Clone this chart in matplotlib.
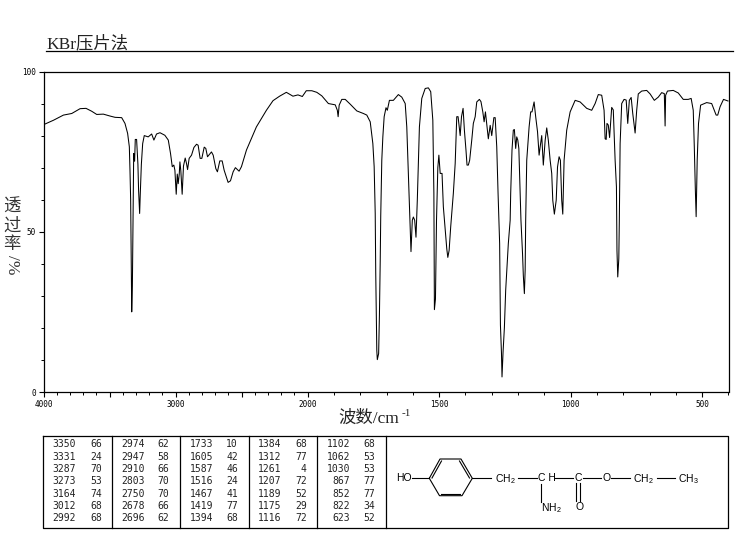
"""IR spectrum (KBr pellet) with peak table and structure panel."""

import numpy as np
import matplotlib
matplotlib.use("Agg")
import matplotlib.pyplot as plt

CJK = ["Liberation Serif", "Noto Sans CJK SC"]
MONO = "DejaVu Sans Mono"
plt.rcParams["mathtext.default"] = "regular"

WAVENUMBERS = [
    4000, 3924, 3849, 3786, 3723, 3678, 3635, 3597, 3547, 3496, 3458, 3408, 3383, 3363, 3350, 3345,
    3340, 3332, 3327, 3322, 3317, 3310, 3305, 3295, 3285, 3280, 3272, 3267, 3259, 3249, 3237, 3207,
    3181, 3164, 3144, 3118, 3081, 3055, 3038, 3025, 3013, 3005, 2995, 2987, 2980, 2972, 2967, 2960,
    2950, 2940, 2927, 2917, 2909, 2897, 2879, 2861, 2841, 2829, 2814, 2801, 2783, 2771, 2758, 2728,
    2715, 2695, 2683, 2665, 2647, 2632, 2602, 2584, 2564, 2547, 2519, 2501, 2463, 2388, 2312, 2262,
    2212, 2161, 2111, 2073, 2040, 2010, 1984, 1965, 1946, 1921, 1895, 1887, 1884, 1880, 1870, 1857,
    1838, 1813, 1788, 1775, 1762, 1752, 1747, 1743, 1741, 1737, 1735, 1730, 1727, 1724, 1722, 1718,
    1714, 1709, 1702, 1697, 1689, 1674, 1655, 1642, 1629, 1623, 1617, 1610, 1607, 1602, 1598, 1593,
    1588, 1583, 1575, 1566, 1553, 1541, 1532, 1524, 1520, 1518, 1514, 1510, 1505, 1501, 1496, 1489,
    1484, 1476, 1471, 1467, 1462, 1456, 1446, 1439, 1433, 1428, 1420, 1415, 1409, 1404, 1398, 1394,
    1389, 1384, 1376, 1370, 1363, 1357, 1347, 1341, 1334, 1329, 1324, 1318, 1313, 1306, 1300, 1292,
    1287, 1281, 1276, 1271, 1270, 1267, 1263, 1261, 1257, 1252, 1247, 1237, 1230, 1228, 1223, 1218,
    1214, 1209, 1205, 1201, 1197, 1192, 1189, 1183, 1180, 1176, 1173, 1171, 1167, 1158, 1152, 1147,
    1139, 1133, 1126, 1120, 1116, 1110, 1104, 1097, 1091, 1085, 1078, 1072, 1068, 1062, 1055, 1050,
    1044, 1039, 1034, 1030, 1025, 1015, 1002, 983, 964, 939, 920, 907, 895, 882, 873, 869,
    865, 862, 857, 852, 844, 838, 831, 826, 824, 821, 817, 815, 812, 806, 797, 789,
    783, 777, 770, 764, 755, 749, 743, 730, 711, 698, 682, 667, 654, 644, 641, 639,
    632, 610, 591, 572, 553, 542, 534, 530, 526, 523, 519, 514, 506, 483, 464, 447,
    441, 432, 419, 402,
]
TRANSMITTANCE = [
    83.4, 84.8, 86.4, 86.9, 88.4, 88.5, 87.6, 86.6, 86.7, 86.1, 85.7, 85.6, 83.8, 80.7, 76.5, 69,
    60, 25, 33, 53.6, 74.4, 72, 78.8, 78.8, 71, 63, 55.7, 62, 71, 77.5, 80, 79.6,
    80.5, 78.6, 80.5, 80.9, 80.1, 78.6, 74.4, 70.3, 70.8, 69.2, 61.7, 68, 65, 68, 71.8, 69,
    61.7, 70.5, 73, 71.3, 69.4, 72.9, 73.9, 76.3, 77.3, 77, 72.9, 72.9, 76.4, 76, 73.4, 74.9,
    73.9, 69.7, 68.7, 72.1, 72.1, 69.2, 65.4, 65.9, 68.7, 70, 68.9, 70.3, 75.5, 82.7, 87.9, 90.9,
    92.3, 93.5, 92.3, 92.7, 92.2, 94, 94, 93.5, 92.4, 90, 89.6, 87.9, 85.9, 89.5, 91.3, 91.3,
    89.8, 87.7, 86.9, 86.4, 84.3, 77.5, 70.3, 55.7, 37, 13, 10.1, 12, 24, 40.6, 55, 72.3,
    79.6, 85.9, 88.7, 87.9, 91, 91, 92.8, 92, 90, 82.7, 68.2, 51.6, 43.8, 53.6, 54.6, 53.6,
    48.3, 59.8, 82.7, 91.6, 94.7, 94.9, 93.7, 84.8, 62, 25.7, 29, 53.6, 70, 73.9, 68.2, 68.2,
    57.8, 49.5, 44.7, 42, 44.2, 51.6, 62, 71.3, 85.9, 85.9, 80, 85.9, 88.5, 81.7, 75.5, 70.8,
    70.8, 72.3, 78.6, 83.8, 85.9, 90.5, 91.3, 90.6, 87.4, 84.3, 87.4, 82.7, 79, 83.2, 80, 85.6,
    85.6, 76.5, 62, 49.5, 46.3, 20.9, 12, 4.7, 12.5, 20, 31.8, 46.3, 53.6, 62, 75.5, 81.7,
    81.9, 76, 79.6, 78.6, 76, 62, 53.6, 43.2, 36.4, 30.7, 38, 53.6, 72.3, 82.7, 87.4, 87.4,
    90.5, 85.9, 81.2, 73.9, 76.5, 80, 70.8, 78.5, 82.4, 78.6, 72.3, 68.2, 59.8, 55.5, 59.8, 70.2,
    73.4, 72.3, 59.8, 55.5, 72.3, 81.7, 87.4, 91, 90.5, 88.5, 87.9, 90, 92.8, 92.6, 87.9, 79,
    78.8, 83.8, 83.3, 79.4, 88.8, 88, 72.3, 64, 44.2, 35.9, 41.6, 53.6, 77.5, 90, 91.3, 91.1,
    83.8, 91, 91.9, 86.9, 80.8, 87.9, 93, 93.9, 94.1, 93, 91, 92, 93.4, 93.1, 83, 92.6,
    93.9, 94.1, 93.3, 91.3, 91.3, 91.6, 87.9, 76.5, 63, 54.7, 72.3, 83.8, 89.5, 90.3, 90, 86.4,
    86.4, 89, 91.3, 90.8,
]

X_TICKS = [4000, 3500, 3000, 2500, 2000, 1500, 1000, 500]
X_LABELS = ["4000", "", "3000", "", "2000", "1500", "1000", "500"]
Y_TICKS = [0, 50, 100]

PEAK_WN = [
    3350, 3331, 3287, 3273, 3164, 3012, 2992,
    2974, 2947, 2910, 2803, 2750, 2678, 2696,
    1733, 1605, 1587, 1516, 1467, 1419, 1394,
    1384, 1312, 1261, 1207, 1189, 1175, 1116,
    1102, 1062, 1030, 867, 852, 822, 623,
]
PEAK_T = [
    66, 24, 70, 53, 74, 68, 68,
    62, 58, 66, 70, 70, 66, 62,
    10, 42, 46, 24, 41, 77, 68,
    68, 77, 4, 72, 52, 29, 72,
    68, 53, 53, 77, 77, 34, 52,
]


def wn_to_pos(wn):
    # axis is compressed by about half above 2000 cm-1
    wn = np.asarray(wn, dtype=float)
    return np.where(wn <= 2000, wn, 2000 + (wn - 2000) * 0.502)


def pos_to_wn(pos):
    pos = np.asarray(pos, dtype=float)
    return np.where(pos <= 2000, pos, 2000 + (pos - 2000) / 0.502)


def draw_table(ov):
    ov.plot([43.5, 728.5, 728.5, 43.5, 43.5], [435.5, 435.5, 527.5, 527.5, 435.5], color="k", lw=0.9)
    for x in [112.5, 180.5, 249.5, 317.5, 386.5]:
        ov.plot([x, x], [435.5, 527.5], color="k", lw=0.9)
    num_right = [76, 145, 213, 281.7, 350]
    val_right = [101.7, 169.3, 238, 306.7, 375]
    for i, (wn, t) in enumerate(zip(PEAK_WN, PEAK_T)):
        col, row = i // 7, i % 7
        y = 444.3 + 12.35 * row
        ov.text(num_right[col], y, str(wn), ha="right", va="center", family=MONO, fontsize=7, color="#222222")
        ov.text(val_right[col], y, str(t), ha="right", va="center", family=MONO, fontsize=7, color="#222222")


def draw_structure(ov):
    hexagon = np.array([[429.3, 478.3], [440, 459], [461, 459], [472.3, 478.3],
                        [462, 495.7], [439.5, 495.7], [429.3, 478.3]])
    ov.plot(hexagon[:, 0], hexagon[:, 1], color="k", lw=0.8)
    inner = [((432, 478), (441.5, 461)), ((459.5, 461), (469.5, 478)), ((441.5, 493.5), (460.5, 493.5))]
    bonds = [((412, 478.3), (429.3, 478.3)), ((472.3, 478.3), (491, 478.3)),
             ((518.5, 478.3), (537, 478.3)), ((555, 478.3), (573.5, 478.3)),
             ((583.5, 478.3), (601.5, 478.3)), ((611.5, 478.3), (630, 478.3)),
             ((657, 478.3), (675, 478.3)), ((541, 483.5), (541, 501.5)),
             ((576.3, 483), (576.3, 501)), ((579.7, 483), (579.7, 501))]
    for p, q in inner + bonds:
        ov.plot([p[0], q[0]], [p[1], q[1]], color="k", lw=0.8)
    labels = [("HO", 404, 478), ("CH$_2$", 505, 479), ("C H", 546.5, 478), ("C", 578.7, 478),
              ("O", 607, 478), ("CH$_2$", 643.5, 479), ("CH$_3$", 688.5, 479),
              ("NH$_2$", 551, 508), ("O", 580, 507.5)]
    for s, x, y in labels:
        ov.text(x, y, s, ha="center", va="center", family="Liberation Sans", fontsize=7.5)


def main():
    fig = plt.figure(figsize=(7.37, 5.39), dpi=100)

    ov = fig.add_axes([0, 0, 1, 1])
    ov.set_xlim(0, 737)
    ov.set_ylim(539, 0)
    ov.axis("off")

    ax = fig.add_axes([43.5 / 737, 1 - 392 / 539, 685 / 737, 320.5 / 539])
    ax.patch.set_alpha(0)
    ax.set_xscale("function", functions=(wn_to_pos, pos_to_wn))
    ax.plot(WAVENUMBERS, TRANSMITTANCE, color="k", lw=0.75)
    ax.set_xlim(4000, 400)
    ax.set_ylim(0, 100)

    ax.set_xticks(X_TICKS)
    ax.set_xticklabels(X_LABELS, family=MONO, fontsize=5.5)
    ax.set_xticks(np.arange(400, 4000, 100), minor=True)
    ax.set_yticks(Y_TICKS)
    ax.set_yticklabels([str(v) for v in Y_TICKS], family=MONO, fontsize=5.5)
    ax.set_yticks(np.arange(0, 101, 10), minor=True)
    ax.tick_params(which="major", length=3.6, width=0.8, pad=2)
    ax.tick_params(which="minor", length=2, width=0.7)
    for spine in ax.spines.values():
        spine.set_linewidth(0.9)

    # title with rule
    ov.text(46, 48.5, "KBr压片法", family=CJK, fontsize=12.5, ha="left", va="baseline", color="#222222")
    ov.plot([46, 733], [50.5, 50.5], color="k", lw=0.9)

    # stacked y label
    for ch, y in zip("透过率", [208, 226.5, 245]):
        ov.text(12, y, ch, family=CJK, fontsize=12.5, ha="center", va="center", color="#333333")
    ov.text(12, 264.5, "/%", family=CJK, fontsize=12.5, rotation=-90, ha="center", va="center", color="#333333")

    # x label, superscript placed by hand since mathtext drops the CJK fallback
    ov.text(338, 423, "波数/cm", family=CJK, fontsize=12.5, ha="left", va="baseline", color="#222222")
    ov.text(402, 416, "-1", family=CJK, fontsize=8, ha="left", va="baseline", color="#222222")

    draw_table(ov)
    draw_structure(ov)

    fig.savefig("out.png", dpi=100)


if __name__ == "__main__":
    main()
